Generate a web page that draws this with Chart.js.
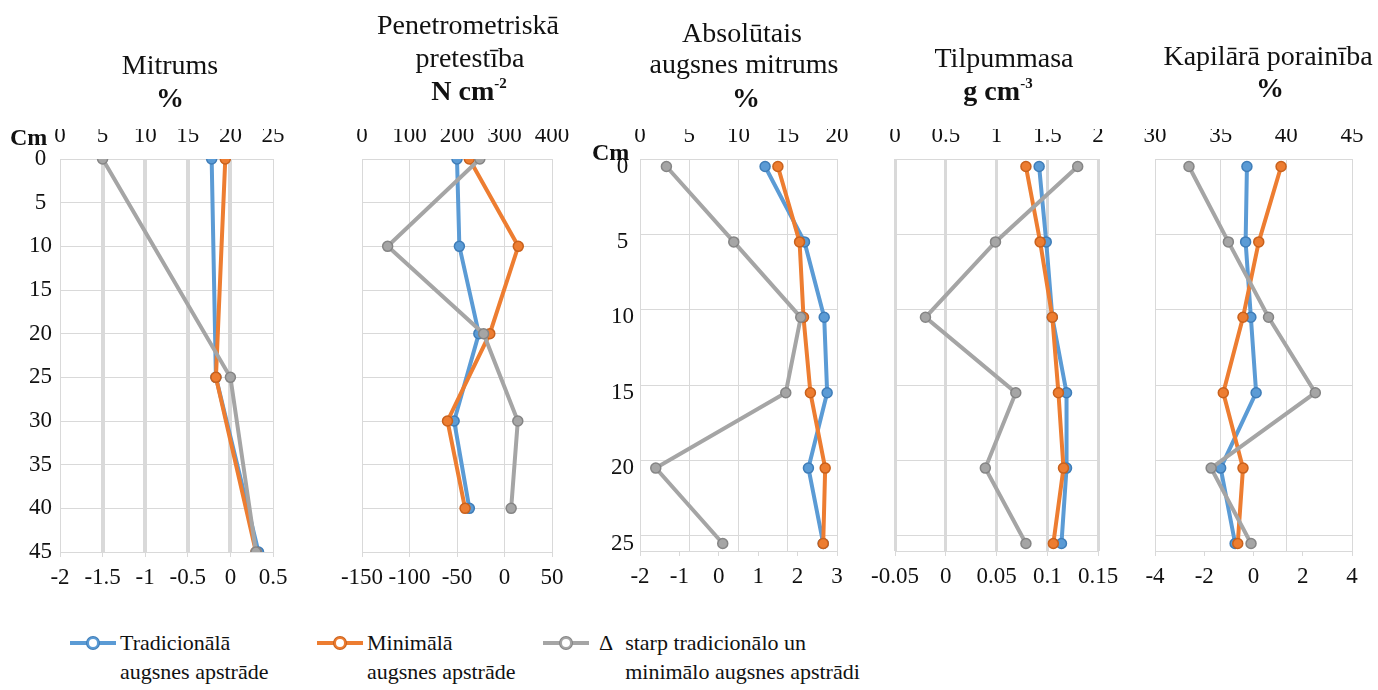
<!DOCTYPE html>
<html>
<head>
<meta charset="utf-8">
<script src="https://cdn.jsdelivr.net/npm/chart.js@4.4.0/dist/chart.umd.min.js"></script>
<style>
  body { margin: 0; background: #fff; }
  #wrap { position: relative; width: 1378px; height: 690px; overflow: hidden;
          font-family: "Liberation Serif", "Times New Roman", Times, "DejaVu Serif", serif; color: #111; }
  #wrap canvas { position: absolute; left: 0; top: 0; }
  .ttl { position: absolute; transform: translate(-50%, -50%); white-space: nowrap; font-size: 28px; line-height: 1; }
  .ttl.b { font-weight: bold; }
  .ttl sup { font-size: 15px; vertical-align: 12px; }
  .cm { position: absolute; transform: translateY(-50%); font-weight: bold; font-size: 24px; line-height: 1; }
  #legend { position: absolute; left: 0; top: 628px; width: 1378px; font-size: 22px; line-height: 29px; }
  .item { position: absolute; top: 0; display: flex; align-items: flex-start; }
  .swatch { position: relative; width: 46px; height: 29px; margin-right: 4px; }
  .swatch .ln { position: absolute; left: 0; right: 0; top: 13px; height: 4px; }
  .swatch .pt { position: absolute; left: 17px; top: 9px; width: 8px; height: 8px; border-radius: 50%; border: 2px solid; background: #fff; }
  .delta { margin: 0 12px 0 6px; }
</style>
</head>
<body>
<div id="wrap">
  <canvas id="c1" width="1378" height="600"></canvas>
  <canvas id="c2" width="1378" height="600"></canvas>
  <canvas id="c3" width="1378" height="600"></canvas>
  <canvas id="c4" width="1378" height="600"></canvas>
  <canvas id="c5" width="1378" height="600"></canvas>

  <div class="ttl" style="left:170px;top:65px">Mitrums</div>
  <div class="ttl b" style="left:170px;top:98px">%</div>
  <div class="ttl" style="left:468px;top:25px">Penetrometriskā</div>
  <div class="ttl" style="left:470px;top:58px">pretestība</div>
  <div class="ttl b" style="left:469px;top:90px">N cm<sup>-2</sup></div>
  <div class="ttl" style="left:742px;top:33px">Absolūtais</div>
  <div class="ttl" style="left:744px;top:64px">augsnes mitrums</div>
  <div class="ttl b" style="left:746px;top:98px">%</div>
  <div class="ttl" style="left:1004px;top:58px">Tilpummasa</div>
  <div class="ttl b" style="left:998px;top:90px">g cm<sup>-3</sup></div>
  <div class="ttl" style="left:1268px;top:56px">Kapilārā porainība</div>
  <div class="ttl b" style="left:1270px;top:88px">%</div>

  <div class="cm" style="left:10px;top:137px">Cm</div>
  <div class="cm" style="left:592px;top:152px">Cm</div>

  <div id="legend"></div>
</div>

<script>
// series names (legend)
const seriesNames = ['Tradicionālā\naugsnes apstrāde', 'Minimālā\naugsnes apstrāde', 'Δ starp tradicionālo un\nminimālo augsnes apstrādi']
const seriesColors = ['#5B9BD5', '#ED7D31', '#A5A5A5']
const seriesBorders = ['#3F7DB8', '#C9611C', '#858585']

// depths, cm
const depthMitrums = [0, 25, 45]
const depthPenetr = [0, 10, 20, 30, 40]
const depthLayers = [0, 5, 10, 15, 20, 25]

// Mitrums, %
const mitrumsTrad = [17.8, 18.3, 23.3]
const mitrumsMin = [19.4, 18.3, 23.0]
const mitrumsDelta = [-1.5, 0.0, 0.3]

// Penetrometriskā pretestība, N cm-2
const penetrTrad = [200, 205, 246, 194, 226]
const penetrMin = [226, 329, 269, 180, 217]
const penetrDelta = [-26, -123, -22, 14, 7]

// Absolūtais augsnes mitrums, %
const absTrad = [12.7, 16.7, 18.7, 19.0, 17.1, 18.6]
const absMin = [14.0, 16.2, 16.6, 17.3, 18.8, 18.6]
const absDelta = [-1.33, 0.38, 2.08, 1.70, -1.60, 0.10]

// Tilpummasa, g cm-3
const tilpTrad = [1.42, 1.49, 1.55, 1.69, 1.69, 1.64]
const tilpMin = [1.29, 1.43, 1.55, 1.61, 1.66, 1.56]
const tilpDelta = [0.13, 0.049, -0.02, 0.069, 0.039, 0.079]

// Kapilārā porainība, %
const kapTrad = [37.0, 36.9, 37.3, 37.7, 35.0, 36.1]
const kapMin = [39.6, 37.9, 36.7, 35.2, 36.7, 36.3]
const kapDelta = [-2.62, -1.02, 0.61, 2.51, -1.72, -0.10]

// tick labels
const depthTicks45 = [0, 5, 10, 15, 20, 25, 30, 35, 40, 45]
const depthTicks25 = [-0.5, 0, 4.5, 5, 9.5, 10, 14.5, 15, 19.5, 20, 24.5, 25, 25.5]
const mitrumsTop = [0, 5, 10, 15, 20, 25]
const mitrumsBottom = [-2, -1.5, -1, -0.5, 0, 0.5]
const penetrTop = [0, 100, 200, 300, 400]
const penetrBottom = [-150, -100, -50, 0, 50]
const absTop = [0, 5, 10, 15, 20]
const absBottom = [-2, -1, 0, 1, 2, 3]
const tilpTop = [0, 0.5, 1, 1.5, 2]
const tilpBottom = [-0.05, 0, 0.05, 0.1, 0.15]
const kapTop = [30, 35, 40, 45]
const kapBottom = [-4, -2, 0, 2, 4]

const W = 1378, H = 600
const gridColor = '#D9D9D9'
const tickFont = { family: '"Liberation Serif", "Times New Roman", Times, serif', size: 23 }

const fixedTicks = values => axis => { axis.ticks = values.map(v => ({ value: v })) }
const fmt = v => String(Math.round(v * 100) / 100)

function series(i, depth, vals, axis) {
  return {
    label: seriesNames[i].replace('\n', ' '),
    order: 3 - i,
    xAxisID: axis,
    yAxisID: 'y',
    data: depth.map((d, k) => ({ x: vals[k], y: d })),
    showLine: true,
    tension: 0,
    borderColor: seriesColors[i],
    backgroundColor: seriesColors[i],
    borderWidth: 4,
    pointRadius: 5,
    pointBackgroundColor: seriesColors[i],
    pointBorderColor: seriesBorders[i],
    pointBorderWidth: 1.5
  }
}

function panel(id, p) {
  const [left, right, top, bottom] = p.area
  const yt = p.yTicks
  return new Chart(document.getElementById(id), {
    type: 'scatter',
    data: {
      datasets: [
        series(0, p.depth, p.trad, 'x'),
        series(1, p.depth, p.min, 'x'),
        series(2, p.depth, p.delta, 'x2')
      ]
    },
    options: {
      responsive: false,
      animation: false,
      events: [],
      layout: { padding: { left: left - p.yWidth, right: W - right, top: top - 30, bottom: H - bottom - 40 } },
      plugins: { legend: { display: false }, tooltip: { enabled: false } },
      scales: {
        x: {
          type: 'linear', position: 'top',
          min: p.top[0], max: p.top[p.top.length - 1],
          afterBuildTicks: fixedTicks(p.top),
          afterFit: s => { s.height = 30; s.paddingLeft = 0; s.paddingRight = 0 },
          ticks: { font: tickFont, color: '#111', padding: 9, callback: fmt, autoSkip: false, maxRotation: 0 },
          grid: {
            color: gridColor, drawTicks: false,
            lineWidth: c => {
              if (!p.thick) return 1
              const edge = c.tick.value === p.top[0] || c.tick.value === p.top[p.top.length - 1]
              return edge && !p.thickEdges ? 1 : p.thick
            }
          },
          border: { display: false }
        },
        x2: {
          type: 'linear', position: 'bottom',
          min: p.bottom[0], max: p.bottom[p.bottom.length - 1],
          afterBuildTicks: fixedTicks(p.bottom),
          afterFit: s => { s.height = 40; s.paddingLeft = 0; s.paddingRight = 0 },
          ticks: { font: tickFont, color: '#111', padding: 7, callback: fmt, autoSkip: false, maxRotation: 0 },
          grid: { drawOnChartArea: false, color: gridColor, tickLength: 5 },
          border: { color: gridColor }
        },
        y: {
          type: 'linear', position: 'left', reverse: true,
          min: yt[0], max: yt[yt.length - 1],
          afterBuildTicks: fixedTicks(yt),
          afterFit: s => { s.width = p.yWidth; s.paddingTop = 0; s.paddingBottom = 0 },
          ticks: {
            display: p.yLabels, font: tickFont, color: '#111', padding: p.yPad || 0,
            crossAlign: 'center', autoSkip: false,
            callback: v => (v % 5 === 0 ? String(v) : '')
          },
          grid: {
            drawTicks: false,
            color: c => (p.layered && c.tick.value % 5 === 0 ? 'rgba(0,0,0,0)' : gridColor)
          },
          border: { color: gridColor }
        }
      }
    }
  })
}

panel('c1', {
  area: [60, 273, 159, 552], yWidth: 60, yPad: 8, yLabels: true, yTicks: depthTicks45,
  depth: depthMitrums, trad: mitrumsTrad, min: mitrumsMin, delta: mitrumsDelta,
  top: mitrumsTop, bottom: mitrumsBottom, thick: 4, thickEdges: false
})
panel('c2', {
  area: [362, 552, 159, 552], yWidth: 0, yLabels: false, yTicks: depthTicks45,
  depth: depthPenetr, trad: penetrTrad, min: penetrMin, delta: penetrDelta,
  top: penetrTop, bottom: penetrBottom
})
panel('c3', {
  area: [640, 837, 159, 551], yWidth: 50, yPad: 6, yLabels: true, yTicks: depthTicks25, layered: true,
  depth: depthLayers, trad: absTrad, min: absMin, delta: absDelta,
  top: absTop, bottom: absBottom
})
panel('c4', {
  area: [895, 1098, 159, 551], yWidth: 0, yLabels: false, yTicks: depthTicks25, layered: true,
  depth: depthLayers, trad: tilpTrad, min: tilpMin, delta: tilpDelta,
  top: tilpTop, bottom: tilpBottom, thick: 3, thickEdges: true
})
panel('c5', {
  area: [1155, 1352, 159, 551], yWidth: 0, yLabels: false, yTicks: depthTicks25, layered: true,
  depth: depthLayers, trad: kapTrad, min: kapMin, delta: kapDelta,
  top: kapTop, bottom: kapBottom
})

// legend
const legendLeft = [70, 317, 543]
const legend = document.getElementById('legend')
seriesNames.forEach((name, i) => {
  const item = document.createElement('div')
  item.className = 'item'
  item.style.left = legendLeft[i] + 'px'
  const sw = document.createElement('div')
  sw.className = 'swatch'
  sw.innerHTML = '<div class="ln" style="background:' + seriesColors[i] + '"></div>' +
    '<div class="pt" style="border-color:' + seriesColors[i] + ';box-shadow:0 0 0 1px ' + seriesBorders[i] + '"></div>'
  item.appendChild(sw)
  let text = name
  if (text.startsWith('Δ ')) {
    const d = document.createElement('div')
    d.className = 'delta'
    d.textContent = 'Δ'
    item.appendChild(d)
    text = text.slice(2)
  }
  const t = document.createElement('div')
  t.innerHTML = text.split('\n').join('<br>')
  item.appendChild(t)
  legend.appendChild(item)
})
</script>
</body>
</html>
